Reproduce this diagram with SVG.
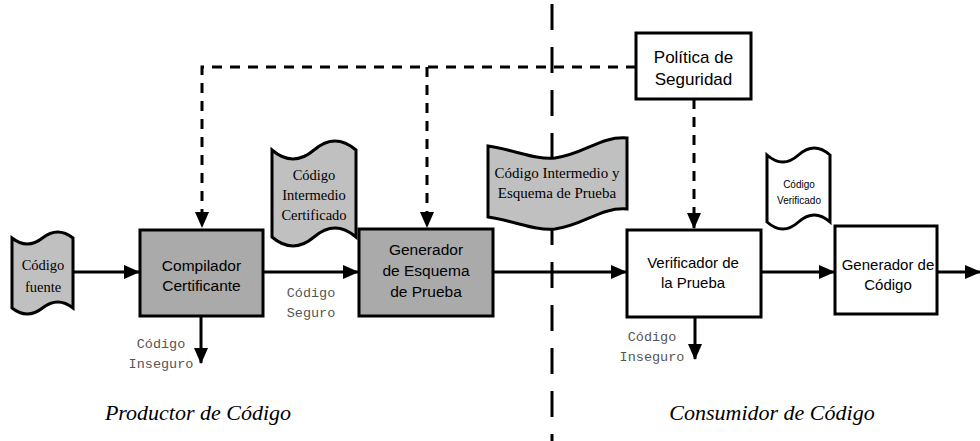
<svg xmlns="http://www.w3.org/2000/svg" width="980" height="441" viewBox="0 0 980 441">
<defs>
<marker id="ah" markerWidth="16" markerHeight="14" refX="15" refY="7" orient="auto" markerUnits="userSpaceOnUse">
<path d="M0,0 L16,7 L0,14 Z" fill="#000"/>
</marker>
<style>
.box{stroke:#000;stroke-width:3}
.gray{fill:#aaaaaa}
.white{fill:#fff}
.doc{stroke:#000;stroke-width:3;fill:#c0c0c0}
.sans{font-family:"Liberation Sans",Arial,sans-serif;fill:#000;text-anchor:middle}
.serif{font-family:"Liberation Serif","Times New Roman",serif;fill:#000;text-anchor:middle}
.mono{font-family:"Liberation Mono","Courier New",monospace;fill:#555;font-size:13.5px;text-anchor:middle}
.conn{stroke:#000;stroke-width:3;fill:none}
.dash{stroke:#000;stroke-width:3;fill:none;stroke-dasharray:10 8}
.div{stroke:#000;stroke-width:3;fill:none;stroke-dasharray:26 17}
.ital{font-family:"Liberation Serif","Times New Roman",serif;font-style:italic;font-size:22px;fill:#000;text-anchor:middle}
</style>
</defs>

<g id="divider">
<line class="div" x1="552" y1="4" x2="552" y2="441"/>
</g>

<g id="connectors">
<polyline class="dash" points="636,67 202,67 202,227" marker-end="url(#ah)"/>
<line class="dash" x1="427" y1="67" x2="427" y2="227" marker-end="url(#ah)"/>
<line class="dash" x1="694" y1="99" x2="694" y2="228" marker-end="url(#ah)"/>
<line class="conn" x1="73" y1="272" x2="139" y2="272" marker-end="url(#ah)"/>
<line class="conn" x1="263" y1="272" x2="358" y2="272" marker-end="url(#ah)"/>
<line class="conn" x1="201" y1="316" x2="201" y2="363" marker-end="url(#ah)"/>
<line class="conn" x1="493" y1="272" x2="626" y2="272" marker-end="url(#ah)"/>
<line class="conn" x1="695" y1="317" x2="695" y2="359" marker-end="url(#ah)"/>
<line class="conn" x1="761" y1="272" x2="834" y2="272" marker-end="url(#ah)"/>
<line class="conn" x1="937" y1="272" x2="980" y2="272" marker-end="url(#ah)"/>
</g>

<g id="codigo-fuente">
<path class="doc" d="M12,238 Q27.25,250 42.5,238 T73,238 L73,308 Q57.75,296 42.5,308 T12,308 Z"/>
<text class="serif" font-size="14.5" x="43" y="270">Código</text>
<text class="serif" font-size="14.5" x="43" y="292">fuente</text>
</g>

<g id="compilador">
<rect class="box gray" x="140" y="230" width="123" height="86"/>
<text class="sans" font-size="15.5" x="201.5" y="270.5">Compilador</text>
<text class="sans" font-size="15.5" x="201.5" y="290.5">Certificante</text>
</g>

<g id="codigo-inseguro-1">
<text class="mono" x="161" y="348">Código</text>
<text class="mono" x="161" y="368">Inseguro</text>
</g>

<g id="codigo-seguro">
<text class="mono" x="311" y="297">Código</text>
<text class="mono" x="311" y="317">Seguro</text>
</g>

<g id="codigo-intermedio-certificado">
<path class="doc" d="M272,150 Q293,168 314,150 T356,150 L356,237 Q335,219 314,237 T272,237 Z"/>
<text class="serif" font-size="14.5" x="314" y="180">Código</text>
<text class="serif" font-size="14.5" x="314" y="200">Intermedio</text>
<text class="serif" font-size="14.5" x="314" y="220">Certificado</text>
</g>

<g id="generador-esquema">
<rect class="box gray" x="359" y="229" width="134" height="87"/>
<text class="sans" font-size="15.5" x="426" y="255">Generador</text>
<text class="sans" font-size="15.5" x="426" y="276">de Esquema</text>
<text class="sans" font-size="15.5" x="426" y="297">de Prueba</text>
</g>

<g id="codigo-intermedio-esquema">
<path class="doc" d="M488,146 C515,150 535,160 555,158 C585,154 600,136 627,138 L627,209 C600,207 585,225 555,229 C535,231 515,221 488,217 Z"/>
<text class="serif" font-size="15" x="557" y="178">Código Intermedio y</text>
<text class="serif" font-size="15" x="557" y="198">Esquema de Prueba</text>
</g>

<g id="politica">
<rect class="box white" x="636" y="33" width="115" height="66"/>
<text class="sans" font-size="17" x="693.5" y="63">Política de</text>
<text class="sans" font-size="17" x="693.5" y="85">Seguridad</text>
</g>

<g id="verificador">
<rect class="box white" x="627" y="230" width="134" height="87"/>
<text class="sans" font-size="15" x="693" y="267.5">Verificador de</text>
<text class="sans" font-size="15" x="693" y="287.5">la Prueba</text>
</g>

<g id="codigo-inseguro-2">
<text class="mono" x="652" y="341">Código</text>
<text class="mono" x="652" y="361">Inseguro</text>
</g>

<g id="codigo-verificado">
<path class="white" stroke="#000" stroke-width="3" d="M767,155 Q782.75,169 798.5,155 T830,155 L830,222 Q814.25,208 798.5,222 T767,222 Z"/>
<text class="sans" font-size="10" x="799" y="188">Código</text>
<text class="sans" font-size="10" x="799" y="204">Verificado</text>
</g>

<g id="generador-codigo">
<rect class="box white" x="835" y="226" width="102" height="88"/>
<text class="sans" font-size="15" x="888" y="270">Generador de</text>
<text class="sans" font-size="15" x="888" y="290">Código</text>
</g>

<g id="labels">
<text class="ital" x="198" y="420">Productor de Código</text>
<text class="ital" x="772" y="420">Consumidor de Código</text>
</g>
</svg>
